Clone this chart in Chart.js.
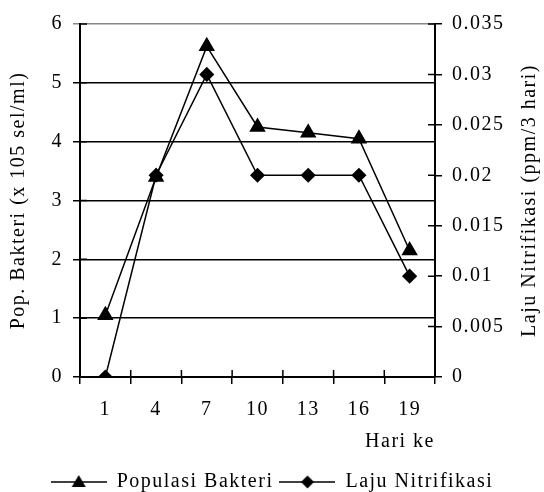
<!DOCTYPE html>
<html>
<head>
<meta charset="utf-8">
<script src="https://cdn.jsdelivr.net/npm/chart.js@4"></script>
<style>
  html, body { margin: 0; padding: 0; background: #fff; }
  #wrap { width: 544px; height: 492px; }
</style>
</head>
<body>
<div id="wrap"><canvas id="chart"></canvas></div>
<script>
const days = ['1', '4', '7', '10', '13', '16', '19'];
const populasi = [1.05, 3.4, 5.62, 4.25, 4.15, 4.05, 2.15];
const laju = [0, 0.02, 0.03, 0.02, 0.02, 0.02, 0.01];
const leftTicks = ['0', '1', '2', '3', '4', '5', '6'];
const rightTicks = ['0', '0.005', '0.01', '0.015', '0.02', '0.025', '0.03', '0.035'];

Chart.defaults.font.family = "'Liberation Serif', 'Times New Roman', serif";
Chart.defaults.font.size = 20;
Chart.defaults.color = '#000';

// legend icon: line with the marker in the middle
function legendIcon(kind) {
  const c = document.createElement('canvas');
  c.width = 56; c.height = 18;
  const g = c.getContext('2d');
  g.strokeStyle = '#000';
  g.lineWidth = 1.5;
  g.beginPath(); g.moveTo(0, 9); g.lineTo(56, 9); g.stroke();
  g.fillStyle = '#000';
  g.beginPath();
  if (kind === 'triangle') {
    g.moveTo(28, 2); g.lineTo(35, 14); g.lineTo(21, 14);
  } else {
    g.moveTo(28, 2.5); g.lineTo(34.5, 9); g.lineTo(28, 15.5); g.lineTo(21.5, 9);
  }
  g.closePath(); g.fill();
  return c;
}

// ticks that cross the axis lines + right title read bottom to top
const axisExtras = {
  id: 'axisExtras',
  beforeUpdate(chart) {
    chart.ctx.letterSpacing = '1.5px';
    const lg = chart.legend;
    if (lg && !lg._fixed) {
      const fit = lg.fit.bind(lg);
      lg.fit = function () { fit(); this.height = 26; };
      lg._fixed = true;
    }
  },
  afterDraw(chart) {
    const ctx = chart.ctx;
    const area = chart.chartArea;
    const x = chart.scales.x, yL = chart.scales.y, yR = chart.scales.y1;
    ctx.save();
    ctx.strokeStyle = '#000';
    ctx.lineWidth = 1.5;
    ctx.beginPath();
    yL.ticks.forEach(t => {
      const py = yL.getPixelForValue(t.value);
      ctx.moveTo(area.left, py); ctx.lineTo(area.left + 7, py);
    });
    yR.ticks.forEach(t => {
      const py = yR.getPixelForValue(t.value);
      ctx.moveTo(area.right - 7, py); ctx.lineTo(area.right, py);
    });
    for (let i = 0; i <= days.length; i++) {
      const px = x.getPixelForValue(i - 0.5);
      ctx.moveTo(px, area.bottom - 7); ctx.lineTo(px, area.bottom);
    }
    ctx.stroke();
    ctx.fillStyle = '#000';
    ctx.font = "20px 'Liberation Serif', serif";
    ctx.textAlign = 'center';
    ctx.textBaseline = 'middle';
    ctx.translate(yR.right - 14, (area.top + area.bottom) / 2);
    ctx.rotate(-Math.PI / 2);
    ctx.fillText('Laju Nitrifikasi (ppm/3 hari)', 0, 0);
    ctx.restore();
  }
};

const ctx = document.getElementById('chart').getContext('2d');
new Chart(ctx, {
  type: 'line',
  data: {
    labels: days,
    datasets: [{
      label: 'Populasi Bakteri',
      data: populasi,
      yAxisID: 'y',
      borderColor: '#000',
      backgroundColor: '#000',
      borderWidth: 1.5,
      pointStyle: 'triangle',
      pointRadius: 8,
      pointHoverRadius: 8
    }, {
      label: 'Laju Nitrifikasi',
      data: laju,
      yAxisID: 'y1',
      borderColor: '#000',
      backgroundColor: '#000',
      borderWidth: 1.5,
      pointStyle: 'rectRot',
      pointRadius: 6.5,
      pointHoverRadius: 6.5
    }]
  },
  options: {
    responsive: true,
    maintainAspectRatio: false,
    animation: false,
    layout: { padding: { top: 24, bottom: 0, left: 0, right: 0 } },
    plugins: {
      tooltip: { enabled: false },
      legend: {
        position: 'bottom',
        labels: {
          usePointStyle: true,
          pointStyleWidth: 56,
          padding: 6,
          font: { size: 20 },
          generateLabels: chart => chart.data.datasets.map((ds, i) => ({
            text: ds.label,
            pointStyle: legendIcon(i === 0 ? 'triangle' : 'diamond'),
            datasetIndex: i,
            lineWidth: 0,
            fillStyle: '#000',
            strokeStyle: '#000'
          }))
        }
      }
    },
    scales: {
      x: {
        offset: true,
        grid: { offset: true, drawOnChartArea: false, color: '#000', lineWidth: 1.5, tickLength: 7 },
        border: { color: '#000', width: 2 },
        ticks: { padding: 14 },
        title: { display: true, text: 'Hari ke', align: 'end', padding: { top: 0, bottom: 12 } },
        afterFit: s => { s.height = 89; }
      },
      y: {
        position: 'left',
        min: 0, max: 6,
        ticks: { stepSize: 1, padding: 10, callback: (v, i) => leftTicks[i] },
        grid: {
          color: c => c.tick && c.tick.value === 6 ? '#888' : '#000',
          lineWidth: 1.5,
          tickLength: 7
        },
        border: { color: '#000', width: 2 },
        title: { display: true, text: 'Pop. Bakteri (x 105 sel/ml)', padding: { top: 7, bottom: 0 } },
        afterFit: s => { s.width = 80; }
      },
      y1: {
        position: 'right',
        min: 0, max: 0.035,
        ticks: { stepSize: 0.005, padding: 10, callback: (v, i) => rightTicks[i] },
        grid: { drawOnChartArea: false, color: '#000', lineWidth: 1.5, tickLength: 7 },
        border: { color: '#000', width: 2 },
        afterFit: s => { s.width = 109; }
      }
    }
  },
  plugins: [axisExtras]
});
</script>
</body>
</html>
